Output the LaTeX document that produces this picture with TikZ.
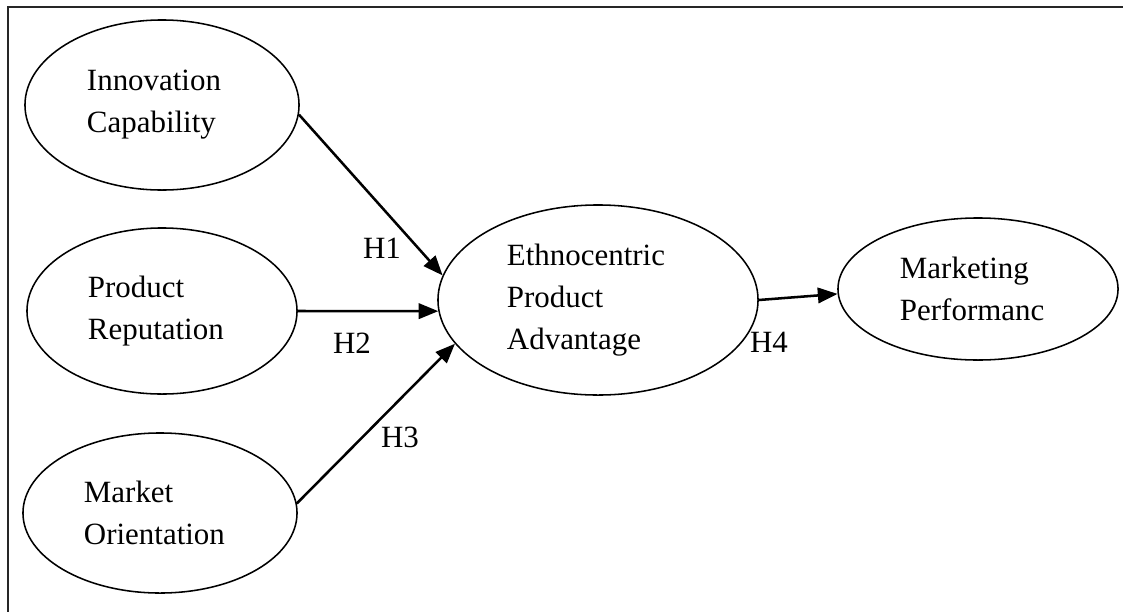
\documentclass[tikz,border=0pt]{standalone}
\usepackage{fontspec}
\setmainfont{Liberation Serif}
\usetikzlibrary{arrows.meta,shapes.geometric}

\begin{document}
\begin{tikzpicture}[
  x=0.025cm,
  y=-0.025cm,
  font=\fontsize{22}{30}\selectfont,
  construct/.style={
    draw,
    ellipse,
    line width=1.1pt,
    inner sep=0pt,
    align=left
  },
  hyp/.style={
    inner sep=0pt
  },
  arrow/.style={
    -{Triangle[length=14pt,width=11pt]},
    line width=1.8pt
  }
]
\useasboundingbox (0,0) rectangle (1123,612);

%---------------------------------
% Frame
%---------------------------------
\draw[line width=1.4pt, black!85] (1123,7) -| (8,612);

%---------------------------------
% Left constructs
%---------------------------------
\node[construct, minimum width=6.85cm, minimum height=4.25cm, text width=3.75cm] (inno) at (162,105)
{Innovation\\Capability};

\node[construct, minimum width=6.75cm, minimum height=4.15cm, text width=3.7cm] (prod) at (162,311)
{Product\\Reputation};

\node[construct, minimum width=6.85cm, minimum height=4.0cm, text width=3.8cm] (mkt) at (160,513)
{Market\\Orientation};

%---------------------------------
% Mediator and outcome
%---------------------------------
\node[construct, minimum width=8.0cm, minimum height=4.75cm, text width=4.55cm] (ethno) at (598,300)
{Ethnocentric\\Product\\Advantage};

\node[construct, minimum width=7.0cm, minimum height=3.55cm, text width=3.9cm] (perf) at (978,289)
{Marketing\\Performanc};

%---------------------------------
% Paths
%---------------------------------
\draw[arrow] (inno.-4) -- (ethno.171);
\draw[arrow] (prod.east) -- (ethno.184);
\draw[arrow] (mkt.4) -- (ethno.197);
\draw[arrow] (ethno.east) -- (perf.182);

%---------------------------------
% Hypotheses
%---------------------------------
\node[hyp] (h1) at (382,248) {H1};
\node[hyp] (h2) at (352,343) {H2};
\node[hyp] (h3) at (400,437) {H3};
\node[hyp] (h4) at (769,342) {H4};

\end{tikzpicture}
\end{document}
